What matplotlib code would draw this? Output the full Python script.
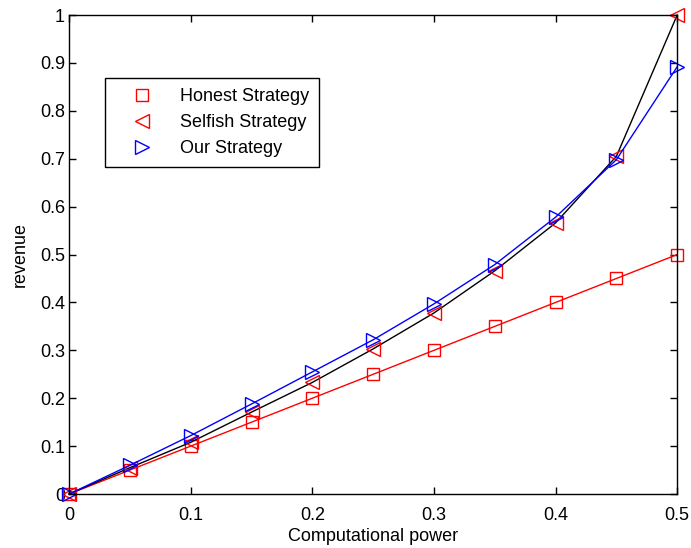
import matplotlib as mpl
mpl.use('Agg')
import matplotlib.pyplot as plt
import matplotlib.lines as mlines

# computational power on x axis
power = [0, 0.05, 0.1, 0.15, 0.2, 0.25, 0.3, 0.35, 0.4, 0.45, 0.5]
honest = [0, 0.05, 0.1, 0.15, 0.2, 0.25, 0.3, 0.35, 0.4, 0.45, 0.5]
selfish = [0, 0.055, 0.108, 0.171, 0.233, 0.303, 0.378, 0.466, 0.566, 0.705, 1.0]
ours = [0, 0.06, 0.122, 0.188, 0.255, 0.322, 0.397, 0.479, 0.578, 0.698, 0.892]

plt.rcParams['font.family'] = ['Liberation Sans', 'DejaVu Sans']
plt.rcParams['font.size'] = 13

fig = plt.figure(figsize=(6.91, 5.48), dpi=100)
ax = fig.add_axes([0.1, 0.0985, 0.88, 0.874])

ax.plot(power, honest, color='r', lw=1, marker='s', ms=8, mfc='none', mec='r',
        label='Honest Strategy', clip_on=False)
ax.plot(power, selfish, color='k', lw=1, marker='<', ms=10, mfc='none', mec='r',
        label='Selfish Strategy', clip_on=False)
ax.plot(power, ours, color='b', lw=1, marker='>', ms=10, mfc='none', mec='b',
        label='Our Strategy', clip_on=False)

ax.set_xlim(0, 0.5)
ax.set_ylim(0, 1)
ax.set_xticks([0, 0.1, 0.2, 0.3, 0.4, 0.5])
ax.set_xticklabels(['0', '0.1', '0.2', '0.3', '0.4', '0.5'])
ax.set_yticks([i / 10 for i in range(11)])
ax.set_yticklabels(['0'] + ['0.%d' % i for i in range(1, 10)] + ['1'])
ax.tick_params(direction='in', top=True, right=True, length=5, width=1, pad=3)
ax.tick_params(axis='x', pad=9)
for s in ax.spines.values():
    s.set_linewidth(1)
ax.set_xlabel('Computational power', labelpad=3)
ax.set_ylabel('revenue', labelpad=8)

# legend markers only (matlab style look)
h, l = ax.get_legend_handles_labels()
hh = [mlines.Line2D([], [], ls='none', marker=x.get_marker(), ms=x.get_markersize(),
                    mfc='none', mec=x.get_mec()) for x in h]
leg = ax.legend(hh, l, loc='upper left', bbox_to_anchor=(0.059, 0.868),
                fancybox=False, edgecolor='k', framealpha=1, handlelength=3.0,
                handletextpad=0.6, borderpad=0.55, labelspacing=0.5,
                borderaxespad=0)
leg.get_frame().set_linewidth(1)

fig.savefig('out.png')
